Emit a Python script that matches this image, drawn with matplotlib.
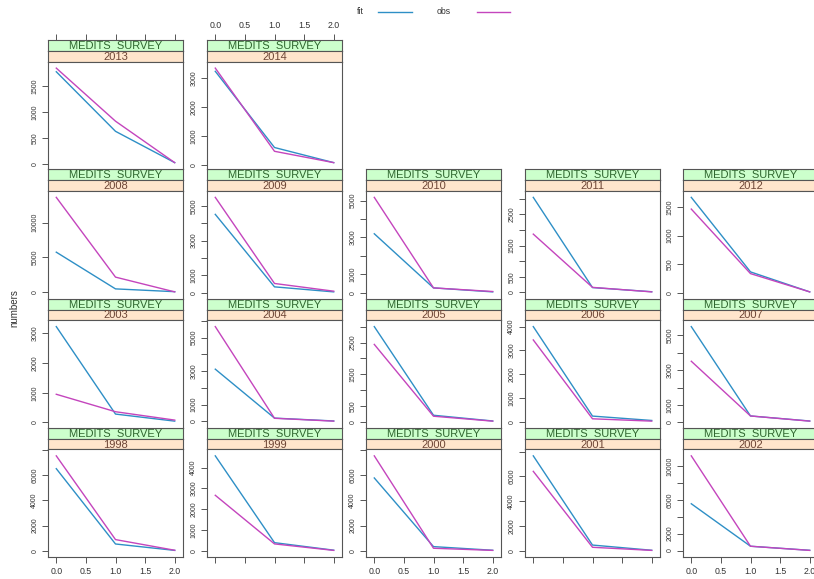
import numpy as np
import matplotlib
matplotlib.use("Agg")
import matplotlib.pyplot as plt
from matplotlib.lines import Line2D

plt.rcParams['font.family'] = ['Liberation Sans', 'DejaVu Sans']

# numbers at age, MEDITS survey index, 1998-2014
ages = [0, 1, 2]
years = [1998, 1999, 2000, 2001, 2002, 2003, 2004, 2005, 2006,
         2007, 2008, 2009, 2010, 2011, 2012, 2013, 2014]
fit_age0 = [6530, 4560, 5790, 7650, 5530, 3230, 3115, 3000, 4000,
            5500, 5750, 4510, 3200, 3050, 1670, 1780, 3220]
fit_age1 = [530, 400, 320, 450, 510, 283, 200, 210, 240,
            367, 480, 330, 257, 153, 365, 633, 600]
fit_age2 = [20, 40, 30, 30, 30, 45, 30, 30, 56,
            77, 80, 40, 40, 20, 15, 30, 80]
obs_age0 = [7550, 2670, 7550, 6400, 11190, 950, 5650, 2440, 3440,
            3510, 13620, 5490, 5180, 1870, 1465, 1850, 3330]
obs_age1 = [880, 340, 190, 270, 510, 362, 190, 180, 126,
            367, 2170, 525, 257, 160, 335, 828, 470]
obs_age2 = [30, 30, 20, 20, 20, 80, 20, 25, 28,
            70, 50, 80, 60, 15, 15, 30, 80]
survey = "MEDITS  SURVEY"

col_fit = '#2e8fc6'
col_obs = '#c445bd'
edge = '#555555'
PAD = 0.07  # lattice axis padding

W, H = 814, 579
fig = plt.figure(figsize=(W / 100, H / 100), dpi=100)


def box(x0, y0, x1, y1):
    # pixel box (top-left origin) -> figure rect
    return [x0 / W, 1 - y1 / H, (x1 - x0) / W, (y1 - y0) / H]


def pretty(lo, hi, n=5, h=1.5):
    # R's pretty() for axis ticks
    cell = (hi - lo) / n
    U = 10 ** np.floor(np.log10(cell))
    unit = U
    if 2 * U - cell < h * (cell - unit):
        unit = 2 * U
        if 5 * U - cell < (0.5 + 1.5 * h) * (cell - unit):
            unit = 5 * U
            if 10 * U - cell < h * (cell - unit):
                unit = 10 * U
    ns = np.floor(lo / unit + 1e-7)
    nu = np.ceil(hi / unit - 1e-7)
    t = np.arange(ns, nu + 1) * unit
    return t[(t >= lo) & (t <= hi)]


xlim = (-2 * PAD, 2 + 2 * PAD)
xt = [0, 0.5, 1.0, 1.5, 2.0]
xtl = ["0.0", "0.5", "1.0", "1.5", "2.0"]
tick_kw = dict(direction='out', length=4.5, width=0.7, color=edge,
               labelcolor='#333333', pad=2.5)

col_left = [48, 207, 366, 525, 683]
pw = 135
top0, ph = 40, 129.25
axes = []

for i, yr in enumerate(years):
    r = 3 - i // 5
    c = i % 5
    x0 = col_left[c]
    t = top0 + r * ph
    # strips
    strips = []
    for (a, b, fc, tc, txt) in [(t, t + 11, '#ccffcc', '#2f662f', survey),
                                (t + 11, t + 21.5, '#ffe5cc', '#6e4636', str(yr))]:
        s = fig.add_axes(box(x0, a, x0 + pw, b))
        s.set_facecolor(fc)
        s.set_xlim(*xlim)
        s.set_xticks([])
        s.set_yticks([])
        for sp in s.spines.values():
            sp.set_color(edge)
            sp.set_linewidth(0.8)
        s.text(0.5, 0.45, txt, ha='center', va='center', fontsize=8,
               color=tc, transform=s.transAxes)
        strips.append(s)

    # top axis sits above the strips on the top row
    if r == 0:
        s = strips[0]
        s.set_xticks(xt)
        s.set_xticklabels(xtl)
        s.tick_params(axis='x', bottom=False, labelbottom=False, top=True,
                      labeltop=(c % 2 == 1), labelsize=6.3, **tick_kw)

    ax = fig.add_axes(box(x0, t + 21.5, x0 + pw, t + ph))
    fit = [fit_age0[i], fit_age1[i], fit_age2[i]]
    obs = [obs_age0[i], obs_age1[i], obs_age2[i]]
    ax.plot(ages, fit, color=col_fit, lw=1.0)
    ax.plot(ages, obs, color=col_obs, lw=1.0)

    ax.set_xlim(*xlim)
    lo, hi = min(fit + obs), max(fit + obs)
    pad = PAD * (hi - lo)
    ax.set_ylim(lo - pad, hi + pad)
    ax.set_yticks(pretty(lo - pad, hi + pad))
    ax.set_yticklabels(["%d" % v for v in ax.get_yticks()])

    for sp in ax.spines.values():
        sp.set_color(edge)
        sp.set_linewidth(0.8)

    ax.set_xticks(xt)
    ax.set_xticklabels(xtl)
    bottom_row = (r == 3)
    ax.tick_params(axis='x', bottom=bottom_row, top=False,
                   labelbottom=bottom_row and c % 2 == 0, labeltop=False,
                   labelsize=6.3, **tick_kw)
    ax.tick_params(axis='y', left=True, labelsize=5, **tick_kw)
    axes.append(ax)

# drop overlapping y tick labels, like lattice does
fig.canvas.draw()
rend = fig.canvas.get_renderer()
for ax in axes:
    for lab in ax.get_yticklabels():
        lab.set_rotation(90)
        lab.set_va('center')
        lab.set_ha('right')
fig.canvas.draw()
for ax in axes:
    ytop = ax.get_window_extent(rend).y1
    keep = []
    last = None
    for lab in ax.get_yticklabels():
        bb = lab.get_window_extent(rend)
        if (last is not None and bb.y0 < last.y1 + 4) or bb.y1 > ytop + 3:
            keep.append("")
        else:
            keep.append(lab.get_text())
            last = bb
    ax.set_yticklabels(keep, rotation=90, va='center', ha='right')

fig.text(14 / W, 1 - 308 / H, "numbers", rotation=90, ha='center', va='center',
         fontsize=7, color='#333333')

# key
fig.text(357 / W, 1 - 12 / H, "fit", ha='left', va='center', fontsize=6.3, color='#333333')
fig.add_artist(Line2D([378 / W, 412 / W], [1 - 12 / H, 1 - 12 / H], color=col_fit, lw=1.0))
fig.text(437 / W, 1 - 12 / H, "obs", ha='left', va='center', fontsize=6.3, color='#333333')
fig.add_artist(Line2D([477 / W, 510 / W], [1 - 12 / H, 1 - 12 / H], color=col_obs, lw=1.0))

fig.savefig("out.png", dpi=100)
